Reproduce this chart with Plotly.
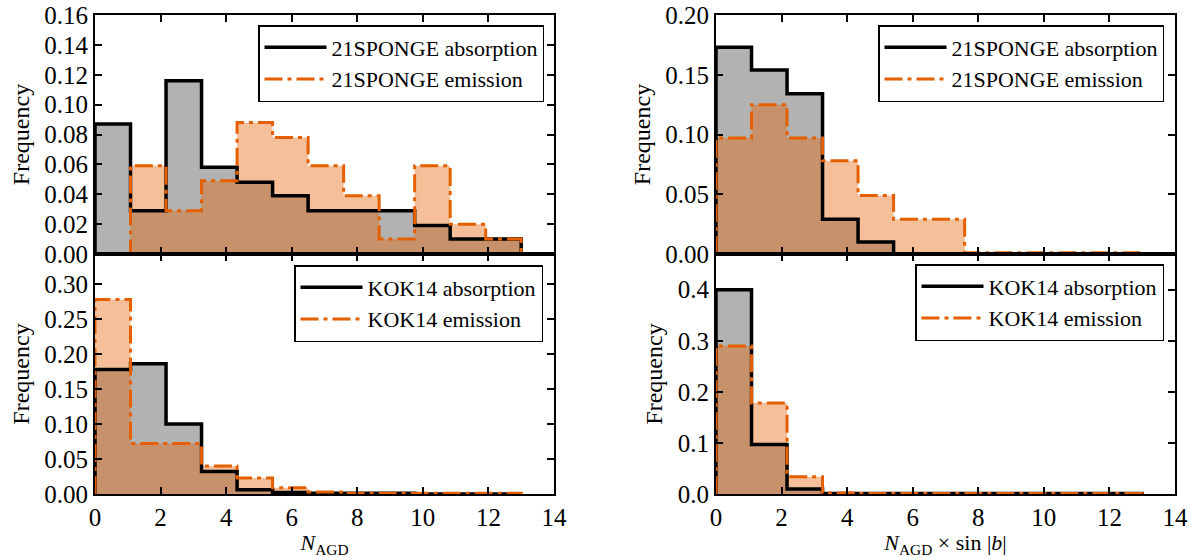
import plotly.graph_objects as go

# ---- data ----
bin_edges = [0.0, 1.0833, 2.1667, 3.25, 4.3333, 5.4167, 6.5, 7.5833, 8.6667, 9.75, 10.8333, 11.9167, 13.0]

sponge_abs_n = [0.087, 0.029, 0.116, 0.058, 0.048, 0.039, 0.029, 0.029, 0.029, 0.019, 0.010, 0.010]
sponge_emi_n = [0.000, 0.059, 0.029, 0.049, 0.088, 0.078, 0.059, 0.039, 0.010, 0.059, 0.020, 0.010]
kok_abs_n = [0.178, 0.186, 0.100, 0.032, 0.006, 0.002, 0.001, 0.001, 0.001, 0.000, 0.000, 0.000]
kok_emi_n = [0.278, 0.072, 0.072, 0.040, 0.023, 0.009, 0.003, 0.001, 0.001, 0.001, 0.001, 0.001]

sponge_abs_s = [0.173, 0.154, 0.134, 0.029, 0.010, 0.000, 0.000, 0.000, 0.000, 0.000, 0.000, 0.000]
sponge_emi_s = [0.097, 0.125, 0.097, 0.078, 0.049, 0.029, 0.029, 0.001, 0.001, 0.001, 0.001, 0.001]
kok_abs_s = [0.400, 0.097, 0.010, 0.001, 0.001, 0.001, 0.001, 0.001, 0.001, 0.001, 0.001, 0.001]
kok_emi_s = [0.290, 0.178, 0.034, 0.002, 0.001, 0.001, 0.001, 0.001, 0.001, 0.001, 0.001, 0.001]

labels_sponge = ["21SPONGE absorption", "21SPONGE emission"]
labels_kok = ["KOK14 absorption", "KOK14 emission"]

yticks_tl = [0.00, 0.02, 0.04, 0.06, 0.08, 0.10, 0.12, 0.14, 0.16]
yticks_bl = [0.00, 0.05, 0.10, 0.15, 0.20, 0.25, 0.30]
yticks_tr = [0.00, 0.05, 0.10, 0.15, 0.20]
yticks_br = [0.0, 0.1, 0.2, 0.3, 0.4]
xticks = [0, 2, 4, 6, 8, 10, 12, 14]

# ---- style ----
FONT = "Liberation Serif, DejaVu Serif, serif"
ORANGE = "#e35f00"
ABS_FILL = "rgba(0,0,0,0.30)"
EMI_FILL = "rgba(230,97,1,0.40)"

W, H = 1191, 558
ML, MR, MT, MB = 0, 0, 0, 64
PW, PH = W - ML - MR, H - MT - MB

def dx(p): return (p - ML) / PW           # plot-area fraction
def dy(p): return (H - MB - p) / PH

xl = [dx(95), dx(554)]
xr = [dx(716), dx(1175)]
yt = [dy(254), dy(15)]
yb = [dy(494), dy(254)]

def step_xy(vals):
    xs = [bin_edges[0]] + list(bin_edges[:-1]) + [bin_edges[-1], bin_edges[-1]]
    ys = [0] + list(vals) + [vals[-1], 0]
    return xs, ys

fig = go.Figure()

panels = [
    ("x", "y", sponge_abs_n, sponge_emi_n, labels_sponge, "legend"),
    ("x2", "y2", sponge_abs_s, sponge_emi_s, labels_sponge, "legend2"),
    ("x3", "y3", kok_abs_n, kok_emi_n, labels_kok, "legend3"),
    ("x4", "y4", kok_abs_s, kok_emi_s, labels_kok, "legend4"),
]

for xa, ya, a, e, labs, lg in panels:
    ax, ay = step_xy(a)
    ex, ey = step_xy(e)
    fig.add_trace(go.Scatter(x=ax, y=ay, xaxis=xa, yaxis=ya, mode="lines", line=dict(width=0, shape="hv"),
                             fill="tozeroy", fillcolor=ABS_FILL, showlegend=False, hoverinfo="skip"))
    fig.add_trace(go.Scatter(x=ex, y=ey, xaxis=xa, yaxis=ya, mode="lines", line=dict(width=0, shape="hv"),
                             fill="tozeroy", fillcolor=EMI_FILL, showlegend=False, hoverinfo="skip"))
    fig.add_trace(go.Scatter(x=ax, y=ay, xaxis=xa, yaxis=ya, mode="lines", name=labs[0], legend=lg,
                             line=dict(width=3.5, color="black", shape="hv")))
    fig.add_trace(go.Scatter(x=ex, y=ey, xaxis=xa, yaxis=ya, mode="lines", name=labs[1], legend=lg,
                             line=dict(width=3, color=ORANGE, shape="hv", dash="18px,5px,4px,5px")))

axis_common = dict(showline=True, linecolor="black", linewidth=2, mirror="ticks", ticks="inside",
                   ticklen=7, tickwidth=1.5, tickcolor="black", showgrid=False, zeroline=False,
                   automargin=False,
                   tickfont=dict(family=FONT, size=25, color="black"))

def xaxis(domain, anchor, labels, title=None):
    d = dict(axis_common, domain=domain, anchor=anchor, range=[0, 14], tickvals=xticks,
             showticklabels=labels, ticktext=[str(t) for t in xticks])
    if title:
        d["title"] = dict(text=title, font=dict(family=FONT, size=22, color="black"), standoff=6)
    return d

def yaxis(domain, anchor, rng, vals, fmt):
    return dict(axis_common, domain=domain, anchor=anchor, range=rng, tickvals=vals,
                ticktext=[fmt.format(v) for v in vals],
                title=dict(text="Frequency", font=dict(family=FONT, size=24, color="black"), standoff=8))

legend_common = dict(bgcolor="white", bordercolor="black", borderwidth=1.5, xanchor="right", yanchor="top",
                     font=dict(family=FONT, size=22, color="black"), traceorder="normal", itemwidth=62,
                     tracegroupgap=0)

fig.update_layout(
    width=W, height=H, margin=dict(l=ML, r=MR, t=MT, b=MB, pad=0, autoexpand=False),
    paper_bgcolor="white", plot_bgcolor="white", showlegend=True,
    xaxis=xaxis(xl, "y", False),
    yaxis=yaxis(yt, "x", [0, 0.16], yticks_tl, "{:.2f}"),
    xaxis2=xaxis(xr, "y2", False),
    yaxis2=yaxis(yt, "x2", [0, 0.20], yticks_tr, "{:.2f}"),
    xaxis3=xaxis(xl, "y3", True, "<i>N</i><sub>AGD</sub>"),
    yaxis3=yaxis(yb, "x3", [0, 0.343], yticks_bl, "{:.2f}"),
    xaxis4=xaxis(xr, "y4", True, "<i>N</i><sub>AGD</sub> × sin |<i>b</i>|"),
    yaxis4=yaxis(yb, "x4", [0, 0.47], yticks_br, "{:.1f}"),
    legend=dict(legend_common, x=dx(544), y=dy(25)),
    legend2=dict(legend_common, x=dx(1164), y=dy(25)),
    legend3=dict(legend_common, x=dx(543), y=dy(265)),
    legend4=dict(legend_common, x=dx(1164), y=dy(264)),
)

fig.write_html("out.html", config={"displayModeBar": False},
               post_script="document.body.style.margin='0';")
